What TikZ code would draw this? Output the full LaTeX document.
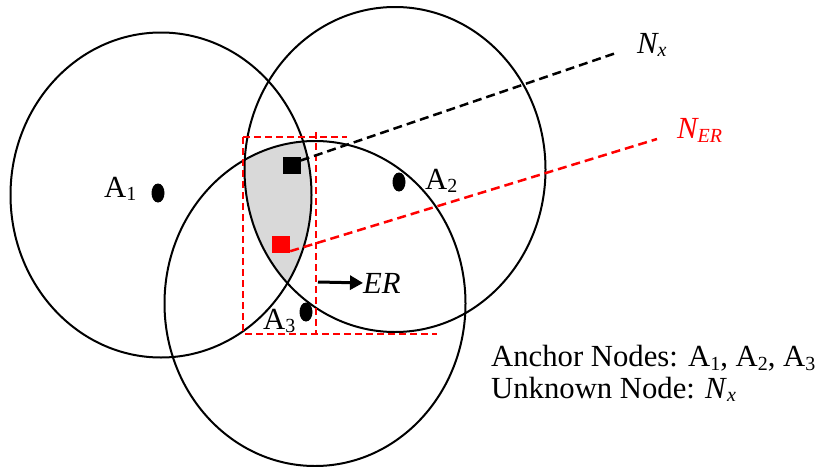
\documentclass[tikz,border=0pt]{standalone}
\usepackage{fontspec}
\setmainfont{Liberation Serif}
\usetikzlibrary{arrows.meta, shapes.geometric}
\newcommand{\lowidx}[1]{\raisebox{-3.5pt}{\fontsize{20}{20}\selectfont #1}}

\begin{document}
\begin{tikzpicture}[x=1pt, y=-1pt,
  ring/.style={line width=2pt},
  anchordot/.style={ellipse, fill=black, minimum width=13pt, minimum height=19pt, inner sep=0pt},
  est/.style={rectangle, minimum width=18pt, minimum height=17pt, inner sep=0pt},
  lbl/.style={inner sep=0pt, anchor=base west, font=\fontsize{30.7}{36}\selectfont},
  ray/.style={line width=2.5pt, dash pattern=on 9pt off 5pt},
  box/.style={draw=red, line width=2pt, dash pattern=on 7pt off 4pt},
  arr/.style={-{Triangle[length=13pt, width=14pt]}, line width=3pt}
]
\useasboundingbox (0,0) rectangle (816,466);

% centres of the ranges
\coordinate (c1) at (161,195);
\coordinate (c2) at (395,169.5);
\coordinate (c3) at (315,303.5);

% common area of the three ranges
\begin{scope}
  \clip (c1) ellipse [x radius=150.5, y radius=162.5];
  \clip (c2) ellipse [x radius=150.5, y radius=162.5];
  \fill[black!15] (c3) ellipse [x radius=150.5, y radius=162.5];
\end{scope}

\draw[ring] (c1) ellipse [x radius=150.5, y radius=162.5];
\draw[ring] (c2) ellipse [x radius=150.5, y radius=162.5];
\draw[ring] (c3) ellipse [x radius=150.5, y radius=162.5];

% estimated region
\draw[box] (243,137) -- (347,137);
\draw[box] (243,137) -- (243,334);
\draw[box] (245,334) -- (437,334);
\draw[box] (316,132) -- (316,334);

\node[anchordot] (a1) at (158,193) {};
\node[anchordot] (a2) at (399,182) {};
\node[anchordot] (a3) at (306,312) {};
\node[lbl] (a1lbl) at (104,197) {A\lowidx{1}};
\node[lbl] (a2lbl) at (425,189) {A\lowidx{2}};
\node[lbl] (a3lbl) at (263,329) {A\lowidx{3}};

\node[est, fill=black] (nx) at (291.5,165.5) {};
\node[est, fill=red] (ner) at (281,244.5) {};

\coordinate (nxend) at (616,53);
\coordinate (nerend) at (657,139);
\draw[ray] ([yshift=5pt]nx.east) -- (nxend);
\draw[ray, red] ([yshift=2pt]ner.south east) -- (nerend);
\node[lbl] (nxlbl) at (637,53) {\itshape N\lowidx{x}};
\node[lbl, text=red] (nerlbl) at (677,138.5) {\itshape N\lowidx{ER}};

\coordinate (erstart) at (318,282);
\node[lbl] (er) at (363,293) {\itshape ER};
\draw[arr] (erstart) -- (er.west);

\node[lbl] (legend1) at (491,366.5) {Anchor Nodes: A\lowidx{1}, A\lowidx{2}, A\lowidx{3}};
\node[lbl] (legend2) at (491,398) {Unknown Node: \textit{N}\lowidx{\itshape x}};
\end{tikzpicture}
\end{document}
